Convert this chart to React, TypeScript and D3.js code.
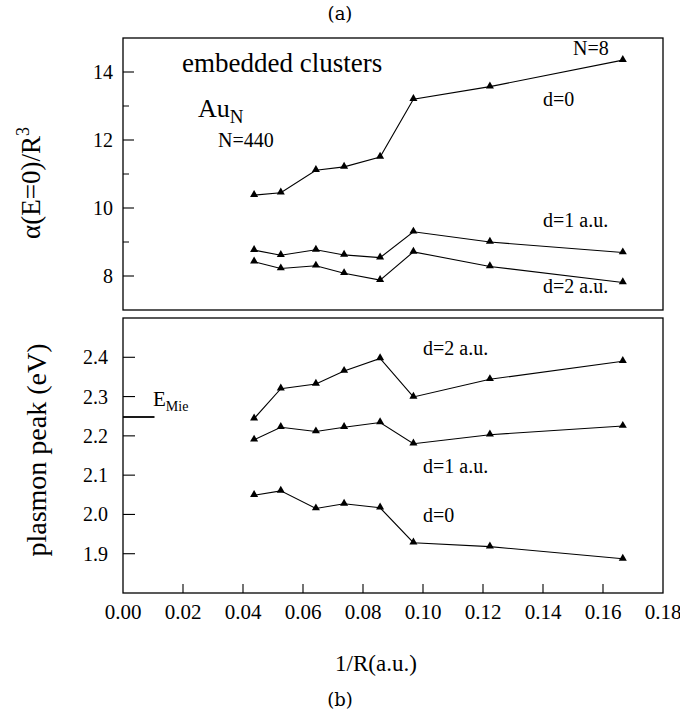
import React from "react";
import * as d3 from "d3";

const xs = [0.0437, 0.0526, 0.0643, 0.0737, 0.0857, 0.0968, 0.1223, 0.1666];
const alphaD0 = [10.38, 10.45, 11.11, 11.21, 11.5, 13.2, 13.57, 14.35];
const alphaD1 = [8.76, 8.61, 8.77, 8.62, 8.54, 9.3, 9.0, 8.69];
const alphaD2 = [8.42, 8.22, 8.3, 8.08, 7.88, 8.71, 8.28, 7.81];
const peakD2 = [2.244, 2.32, 2.332, 2.365, 2.397, 2.299, 2.344, 2.39];
const peakD1 = [2.19, 2.222, 2.211, 2.222, 2.234, 2.18, 2.203, 2.225];
const peakD0 = [2.049, 2.06, 2.015, 2.027, 2.017, 1.928, 1.918, 1.887];
const eMie = 2.248;
const eMieX = [0, 0.0105];

const xTicks = [0, 0.02, 0.04, 0.06, 0.08, 0.1, 0.12, 0.14, 0.16, 0.18];
const topMajor = [8, 10, 12, 14];
const topMinor = [9, 11, 13];
const botTicks = [1.9, 2.0, 2.1, 2.2, 2.3, 2.4];

const SERIF = "Liberation Serif";
const LATEX = "DejaVu Serif";

function T(props: any) {
  const { fam, children, ...rest } = props;
  return (
    <text {...rest} fontFamily={fam || SERIF} style={{ fontFamily: fam || SERIF }}>
      {children}
    </text>
  );
}

export default function App() {
  const L = 123, R = 663;
  const x = d3.scaleLinear().domain([0, 0.18]).range([L, R]);
  const yTop = d3.scaleLinear().domain([7, 15]).range([310, 38]);
  const yBot = d3.scaleLinear().domain([1.8, 2.5]).range([593, 318]);
  const tri = d3.symbol().type(d3.symbolTriangle).size(28)() as string;

  const series = (vals: number[], y: d3.ScaleLinear<number, number>, key: string) => {
    const pts = xs.map((v, i) => [x(v), y(vals[i])] as [number, number]);
    const line = d3.line()(pts) as string;
    return (
      <g key={key}>
        <path d={line} fill="none" stroke="#000" strokeWidth={1.1} />
        {pts.map((p, i) => (
          <path key={i} d={tri} transform={`translate(${p[0]},${p[1] - 0.5})`} fill="#000" />
        ))}
      </g>
    );
  };

  return (
    <svg width={680} height={717} style={{ position: "absolute", left: 0, top: 0, background: "#fff" }}>
      <rect x={0} y={0} width={680} height={717} fill="#fff" />
      <T x={340} y={20} textAnchor="middle" fontSize={18} fam={LATEX}>(a)</T>
      <T x={340} y={706} textAnchor="middle" fontSize={18} fam={LATEX}>(b)</T>

      {/* top panel */}
      <rect x={L} y={yTop(15)} width={R - L} height={yTop(7) - yTop(15)} fill="none" stroke="#000" strokeWidth={1.3} />
      {topMajor.map((t) => (
        <g key={t}>
          <line x1={L} x2={L + 11} y1={yTop(t)} y2={yTop(t)} stroke="#000" strokeWidth={1.1} />
          <T x={113} y={yTop(t) + 7} textAnchor="end" fontSize={20}>{t}</T>
        </g>
      ))}
      {topMinor.map((t) => (
        <line key={t} x1={L} x2={L + 6} y1={yTop(t)} y2={yTop(t)} stroke="#000" strokeWidth={1} />
      ))}
      {series(alphaD0, yTop, "a0")}
      {series(alphaD1, yTop, "a1")}
      {series(alphaD2, yTop, "a2")}
      <T x={182} y={72} fontSize={27}>embedded clusters</T>
      <T x={198} y={117} fontSize={26}>Au<tspan fontSize={19} dy={6}>N</tspan></T>
      <T x={218} y={147} fontSize={20}>N=440</T>
      <T x={573} y={55} fontSize={20}>N=8</T>
      <T x={543} y={106} fontSize={20}>d=0</T>
      <T x={543} y={227} fontSize={20}>d=1 a.u.</T>
      <T x={543} y={293} fontSize={20}>d=2 a.u.</T>
      <T transform={`translate(40,183) rotate(-90)`} textAnchor="middle" fontSize={27}>
        α(E=0)/R<tspan fontSize={18} dy={-11}>3</tspan>
      </T>

      {/* bottom panel */}
      <rect x={L} y={yBot(2.5)} width={R - L} height={yBot(1.8) - yBot(2.5)} fill="none" stroke="#000" strokeWidth={1.3} />
      {botTicks.map((t) => (
        <g key={t}>
          <line x1={L} x2={L + 12} y1={yBot(t)} y2={yBot(t)} stroke="#000" strokeWidth={1.1} />
          <T x={108} y={yBot(t) + 7} textAnchor="end" fontSize={20}>{t.toFixed(1)}</T>
        </g>
      ))}
      {xTicks.map((t) => (
        <g key={t}>
          {t > 0 && t < 0.18 && (
            <line x1={x(t)} x2={x(t)} y1={yBot(1.8)} y2={yBot(1.8) - 9} stroke="#000" strokeWidth={1.1} />
          )}
          <T x={x(t)} y={619} textAnchor="middle" fontSize={21}>{t.toFixed(2)}</T>
        </g>
      ))}
      {series(peakD2, yBot, "p2")}
      {series(peakD1, yBot, "p1")}
      {series(peakD0, yBot, "p0")}
      <line x1={x(eMieX[0])} x2={x(eMieX[1])} y1={yBot(eMie)} y2={yBot(eMie)} stroke="#000" strokeWidth={1.8} />
      <T x={153} y={406} fontSize={21}>E<tspan fontSize={14} dy={5}>Mie</tspan></T>
      <T x={423} y={355} fontSize={20}>d=2 a.u.</T>
      <T x={423} y={473} fontSize={20}>d=1 a.u.</T>
      <T x={423} y={522} fontSize={20}>d=0</T>
      <T transform={`translate(46,450) rotate(-90)`} textAnchor="middle" fontSize={28}>plasmon peak (eV)</T>
      <T x={376} y={671} textAnchor="middle" fontSize={23}>1/R(a.u.)</T>
    </svg>
  );
}
